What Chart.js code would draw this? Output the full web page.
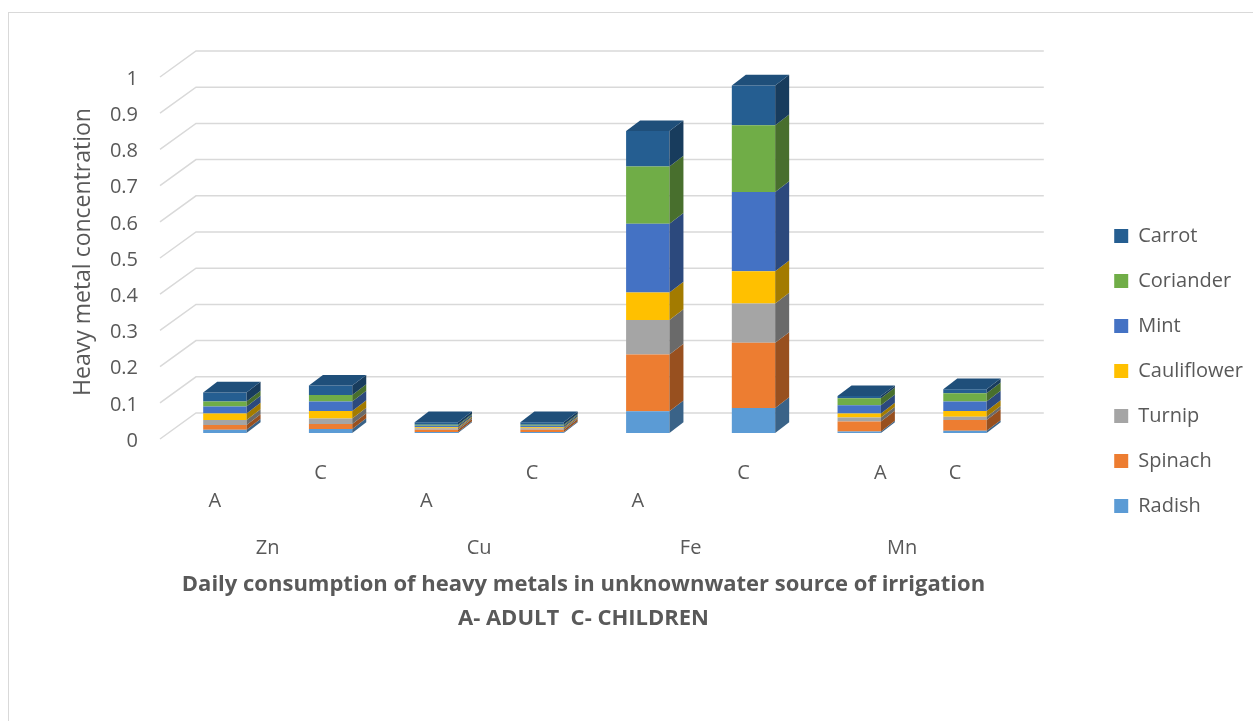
<!DOCTYPE html>
<html>
<head>
<meta charset="utf-8">
<script src="https://cdn.jsdelivr.net/npm/chart.js@4.4.0/dist/chart.umd.min.js"></script>
<style>
    body { margin: 0; background: #fff; overflow: hidden; }
    #frame { position: absolute; left: 8px; top: 12px; width: 1300px; height: 800px; border: 1px solid #d9d9d9; }
    #myChart { position: absolute; left: 0; top: 0; }
</style>
</head>
<body>
<div id="frame"></div>
<canvas id="myChart" width="1253" height="721"></canvas>
<script>
// A = adult, C = children, grouped by metal
const categories = [['', 'A'], 'C', ['', 'A'], 'C', ['', 'A'], 'C', '            A', 'C'];
const metals = ['Zn', 'Cu', 'Fe', 'Mn'];
const yTicks = [0, 0.1, 0.2, 0.3, 0.4, 0.5, 0.6, 0.7, 0.8, 0.9, 1];

const radish      = [0.009, 0.011, 0.003, 0.003, 0.060, 0.069, 0.004, 0.006];
const spinach     = [0.013, 0.014, 0.006, 0.006, 0.157, 0.180, 0.028, 0.030];
const turnip      = [0.014, 0.015, 0.004, 0.004, 0.095, 0.109, 0.011, 0.009];
const cauliflower = [0.018, 0.021, 0.003, 0.003, 0.076, 0.089, 0.011, 0.016];
const mint        = [0.019, 0.026, 0.004, 0.004, 0.190, 0.219, 0.023, 0.026];
const coriander   = [0.014, 0.018, 0.003, 0.003, 0.158, 0.184, 0.019, 0.023];
const carrot      = [0.025, 0.026, 0.007, 0.007, 0.098, 0.110, 0.006, 0.011];

const textColor = '#595959';
const gridColor = '#d9d9d9';

function shade(hex, f) {
    const n = parseInt(hex.slice(1), 16);
    const r = Math.round(((n >> 16) & 255) * f);
    const g = Math.round(((n >> 8) & 255) * f);
    const b = Math.round((n & 255) * f);
    return `rgb(${r}, ${g}, ${b})`;
}

// back wall + left floor lines of the 3D box
const wallGrid = {
    id: 'wallGrid',
    beforeDatasetsDraw(chart) {
        const ctx = chart.ctx;
        const area = chart.chartArea;
        const y = chart.scales.y;
        ctx.save();
        ctx.strokeStyle = gridColor;
        ctx.lineWidth = 1.5;
        yTicks.forEach(v => {
            const py = y.getPixelForValue(v);
            ctx.beginPath();
            ctx.moveTo(area.left - 12, py + 6);
            ctx.lineTo(area.left + 24, py - 20);
            ctx.lineTo(area.right + 26, py - 20);
            ctx.stroke();
        });
        ctx.restore();
    }
};

// side and top faces of the columns
const bars3d = {
    id: 'bars3d',
    afterDatasetsDraw(chart) {
        const ctx = chart.ctx;
        const dx = 14, dy = 10.7;
        const last = chart.data.datasets.length - 1;
        ctx.save();
        chart.data.datasets.forEach((ds, i) => {
            const meta = chart.getDatasetMeta(i);
            meta.data.forEach(bar => {
                const { x, y, base, width } = bar.getProps(['x', 'y', 'base', 'width'], true);
                const l = x - width / 2, r = x + width / 2;
                ctx.fillStyle = shade(ds.backgroundColor, 0.64);
                ctx.beginPath();
                ctx.moveTo(r, y);
                ctx.lineTo(r + dx, y - dy);
                ctx.lineTo(r + dx, base - dy);
                ctx.lineTo(r, base);
                ctx.closePath();
                ctx.fill();
                if (i === last) {
                    ctx.fillStyle = shade(ds.backgroundColor, 0.84);
                    ctx.beginPath();
                    ctx.moveTo(l, y);
                    ctx.lineTo(l + dx, y - dy);
                    ctx.lineTo(r + dx, y - dy);
                    ctx.lineTo(r, y);
                    ctx.closePath();
                    ctx.fill();
                }
            });
        });
        ctx.restore();
    }
};

const font = { family: 'Open Sans', size: 20 };

new Chart(document.getElementById('myChart').getContext('2d'), {
    type: 'bar',
    data: {
        labels: categories,
        datasets: [
            { label: 'Radish', data: radish, backgroundColor: '#5B9BD5' },
            { label: 'Spinach', data: spinach, backgroundColor: '#ED7D31' },
            { label: 'Turnip', data: turnip, backgroundColor: '#A5A5A5' },
            { label: 'Cauliflower', data: cauliflower, backgroundColor: '#FFC000' },
            { label: 'Mint', data: mint, backgroundColor: '#4472C4' },
            { label: 'Coriander', data: coriander, backgroundColor: '#70AD47' },
            { label: 'Carrot', data: carrot, backgroundColor: '#255E91' }
        ]
    },
    options: {
        responsive: false,
        animation: false,
        devicePixelRatio: 1,
        layout: { padding: { left: 70, top: 71, bottom: 50, right: 0 } },
        datasets: { bar: { categoryPercentage: 1, barPercentage: 0.41, borderWidth: 0 } },
        plugins: {
            tooltip: { enabled: false },
            legend: {
                position: 'right',
                reverse: true,
                maxWidth: 172,
                labels: { color: textColor, font: font, boxWidth: 14, boxHeight: 14, padding: 25 }
            }
        },
        scales: {
            x: {
                stacked: true,
                offset: true,
                grid: { display: false, drawTicks: false },
                border: { display: false },
                ticks: {
                    color: textColor, font: { family: 'Open Sans', size: 20, lineHeight: 1.4 },
                    padding: 26, labelOffset: -10, autoSkip: false, maxRotation: 0
                },
                afterFit(scale) { scale.height = 87; }
            },
            x2: {
                type: 'category',
                labels: metals,
                position: 'bottom',
                offset: true,
                weight: 1,
                grid: { display: false, drawTicks: false },
                border: { display: false },
                ticks: { color: textColor, font: font, padding: 16, labelOffset: -10, maxRotation: 0 },
                title: {
                    display: true,
                    text: ['Daily consumption of heavy metals in unknownwater source of irrigation    ', 'A- ADULT  C- CHILDREN    '],
                    color: textColor,
                    font: { family: 'Open Sans', size: 22, weight: 'bold', lineHeight: 34 / 22 },
                    padding: { top: 0, bottom: 35 }
                },
                afterFit(scale) { scale.height = 151; }
            },
            y: {
                stacked: true,
                min: 0,
                max: 1,
                grid: { display: false, drawTicks: false },
                border: { display: false },
                ticks: {
                    color: textColor, font: font, stepSize: 0.1, padding: 34, labelOffset: 8,
                    callback: v => String(Math.round(v * 10) / 10)
                },
                title: {
                    display: true,
                    text: 'Heavy metal concentration',
                    color: textColor,
                    font: { family: 'Open Sans', size: 23 },
                    padding: 0
                },
                afterFit(scale) { scale.width = 102; }
            },
            gap: {
                type: 'linear',
                position: 'right',
                grid: { display: false, drawTicks: false },
                border: { display: false },
                ticks: { display: false },
                afterFit(scale) { scale.width = 71.4; }
            }
        }
    },
    plugins: [wallGrid, bars3d]
});
</script>
</body>
</html>
